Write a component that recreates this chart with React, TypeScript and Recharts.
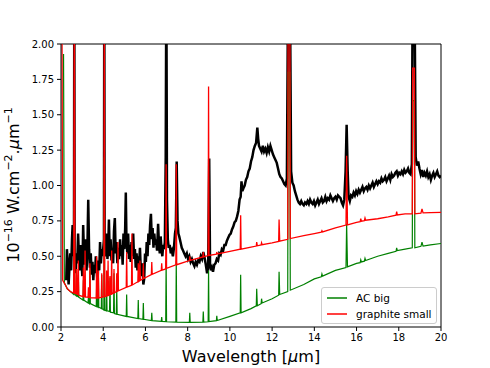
import { LineChart, Line, XAxis, YAxis, ReferenceLine } from 'recharts';

const xTicks = [2, 4, 6, 8, 10, 12, 14, 16, 18, 20];
const yTicks = [0, 0.25, 0.5, 0.75, 1, 1.25, 1.5, 1.75, 2];

// observed spectrum, 10^-16 W cm^-2 um^-1
const observed: [number, number][] = [
  [2.25, 0.33], [2.28, 0.55], [2.32, 0.45], [2.36, 0.3], [2.4, 0.42], [2.44, 0.52], [2.48, 0.4],
  [2.52, 0.62], [2.55, 0.72], [2.58, 0.5], [2.615, 0.6], [2.63, 2.5], [2.645, 0.48], [2.69, 0.38],
  [2.73, 0.52], [2.77, 0.45], [2.81, 0.66], [2.85, 0.5], [2.89, 0.4], [2.93, 0.58], [2.97, 0.47],
  [3.01, 0.36], [3.05, 0.72], [3.09, 0.5], [3.13, 0.44], [3.17, 0.62], [3.21, 0.4], [3.25, 0.55],
  [3.29, 0.9], [3.33, 0.55], [3.37, 0.42], [3.41, 0.52], [3.45, 0.37], [3.49, 0.46], [3.53, 0.33],
  [3.57, 0.44], [3.61, 0.38], [3.65, 0.5], [3.69, 0.4], [3.73, 0.32], [3.77, 0.47], [3.81, 0.4],
  [3.85, 0.6], [3.89, 0.45], [3.93, 0.55], [3.97, 0.5], [4.035, 0.62], [4.05, 2.5], [4.065, 0.58],
  [4.12, 0.5], [4.16, 0.66], [4.2, 0.48], [4.24, 0.58], [4.27, 0.76], [4.31, 0.5], [4.35, 0.62],
  [4.39, 0.47], [4.43, 0.56], [4.47, 0.45], [4.51, 0.68], [4.55, 0.77], [4.59, 0.52], [4.63, 0.6],
  [4.67, 0.45], [4.71, 0.56], [4.75, 0.48], [4.8, 0.62], [4.84, 0.5], [4.88, 0.58], [4.92, 0.44],
  [4.96, 0.66], [5.0, 0.55], [5.04, 0.7], [5.07, 0.95], [5.1, 0.62], [5.14, 0.52], [5.18, 0.66],
  [5.22, 0.48], [5.26, 0.58], [5.3, 0.46], [5.34, 0.6], [5.38, 0.5], [5.42, 0.66], [5.46, 0.48],
  [5.5, 0.55], [5.54, 0.42], [5.58, 0.52], [5.62, 0.4], [5.66, 0.5], [5.7, 0.44], [5.74, 0.56],
  [5.78, 0.4], [5.82, 0.36], [5.86, 0.45], [5.9, 0.3], [5.94, 0.34], [5.98, 0.52], [6.02, 0.46],
  [6.06, 0.6], [6.1, 0.5], [6.14, 0.66], [6.18, 0.58], [6.22, 0.72], [6.26, 0.8], [6.3, 0.62],
  [6.34, 0.7], [6.38, 0.56], [6.42, 0.66], [6.46, 0.58], [6.5, 0.62], [6.55, 0.54], [6.6, 0.73],
  [6.64, 0.58], [6.68, 0.52], [6.72, 0.64], [6.76, 0.55], [6.8, 0.5], [6.84, 0.58], [6.88, 0.55],
  [6.92, 0.6], [6.96, 1.2], [6.99, 2.5], [7.02, 0.9], [7.06, 0.62], [7.1, 0.56], [7.15, 0.58],
  [7.2, 0.52], [7.25, 0.54], [7.3, 0.5], [7.35, 0.56], [7.4, 0.66], [7.44, 0.7], [7.48, 1.17],
  [7.52, 0.75], [7.56, 0.66], [7.6, 0.64], [7.66, 0.6], [7.72, 0.56], [7.78, 0.54], [7.84, 0.52],
  [7.9, 0.5], [7.96, 0.52], [8.02, 0.48], [8.08, 0.5], [8.14, 0.46], [8.2, 0.48], [8.26, 0.45],
  [8.32, 0.43], [8.38, 0.46], [8.44, 0.44], [8.5, 0.47], [8.56, 0.46], [8.62, 0.5], [8.68, 0.48],
  [8.74, 0.53], [8.8, 0.49], [8.86, 0.44], [8.92, 0.38], [8.97, 0.42], [9.02, 1.19], [9.06, 0.45],
  [9.1, 0.4], [9.15, 0.42], [9.2, 0.39], [9.26, 0.44], [9.32, 0.45], [9.38, 0.48], [9.44, 0.47],
  [9.5, 0.52], [9.56, 0.51], [9.62, 0.55], [9.68, 0.54], [9.74, 0.58], [9.8, 0.58], [9.86, 0.61],
  [9.92, 0.63], [9.98, 0.65], [10.04, 0.66], [10.1, 0.69], [10.16, 0.71], [10.22, 0.74], [10.28, 0.75],
  [10.34, 0.78], [10.4, 0.82], [10.46, 0.9], [10.51, 0.92], [10.55, 1.03], [10.59, 0.96], [10.64, 0.98],
  [10.7, 1.0], [10.76, 1.04], [10.82, 1.06], [10.88, 1.1], [10.94, 1.12], [11.0, 1.17], [11.06, 1.2],
  [11.12, 1.25], [11.18, 1.28], [11.24, 1.3], [11.3, 1.41], [11.34, 1.33], [11.38, 1.28], [11.44, 1.26],
  [11.5, 1.24], [11.56, 1.28], [11.62, 1.24], [11.68, 1.26], [11.74, 1.23], [11.8, 1.27], [11.86, 1.24],
  [11.92, 1.28], [11.98, 1.25], [12.04, 1.22], [12.1, 1.2], [12.16, 1.18], [12.22, 1.16], [12.28, 1.12],
  [12.34, 1.08], [12.4, 1.06], [12.46, 1.05], [12.52, 1.03], [12.58, 1.01], [12.64, 1.0], [12.7, 1.05],
  [12.76, 2.5], [12.84, 2.5], [12.9, 1.1], [12.96, 1.02], [13.02, 1.0], [13.08, 0.96], [13.14, 0.93],
  [13.2, 0.9], [13.26, 0.88], [13.32, 0.87], [13.38, 0.89], [13.44, 0.87], [13.5, 0.86], [13.56, 0.88],
  [13.62, 0.87], [13.68, 0.89], [13.74, 0.87], [13.8, 0.9], [13.86, 0.88], [13.92, 0.87], [13.98, 0.89],
  [14.04, 0.86], [14.1, 0.88], [14.16, 0.9], [14.22, 0.87], [14.28, 0.89], [14.34, 0.91], [14.4, 0.88],
  [14.46, 0.89], [14.52, 0.92], [14.58, 0.89], [14.64, 0.91], [14.7, 0.9], [14.76, 0.93], [14.82, 0.91],
  [14.88, 0.89], [14.94, 0.91], [15.0, 0.92], [15.06, 0.9], [15.12, 0.93], [15.18, 0.92], [15.24, 0.91],
  [15.3, 0.88], [15.36, 0.86], [15.42, 0.9], [15.48, 1.1], [15.53, 1.43], [15.58, 1.1], [15.62, 0.92],
  [15.68, 0.89], [15.74, 0.93], [15.8, 0.92], [15.86, 0.95], [15.92, 0.93], [15.98, 0.96], [16.04, 0.94],
  [16.1, 0.97], [16.16, 0.95], [16.22, 0.97], [16.28, 0.99], [16.34, 0.96], [16.4, 0.98], [16.46, 0.99],
  [16.52, 0.97], [16.58, 1.0], [16.64, 0.98], [16.7, 1.0], [16.76, 1.02], [16.82, 0.99], [16.88, 1.01],
  [16.94, 1.03], [17.0, 1.01], [17.06, 1.03], [17.12, 1.02], [17.18, 1.05], [17.24, 1.03], [17.3, 1.04],
  [17.36, 1.06], [17.42, 1.03], [17.48, 1.05], [17.54, 1.07], [17.6, 1.04], [17.66, 1.08], [17.72, 1.06],
  [17.78, 1.07], [17.84, 1.09], [17.9, 1.1], [17.96, 1.07], [18.02, 1.09], [18.08, 1.08], [18.14, 1.1],
  [18.2, 1.08], [18.26, 1.11], [18.32, 1.09], [18.38, 1.1], [18.44, 1.12], [18.5, 1.09], [18.56, 1.08],
  [18.62, 1.15], [18.66, 2.5], [18.74, 2.5], [18.8, 1.2], [18.86, 1.14], [18.92, 1.17], [18.98, 1.12],
  [19.04, 1.08], [19.1, 1.11], [19.16, 1.06], [19.22, 1.09], [19.28, 1.07], [19.34, 1.1], [19.4, 1.06],
  [19.46, 1.08], [19.52, 1.04], [19.58, 1.07], [19.64, 1.09], [19.7, 1.06], [19.76, 1.08], [19.82, 1.1],
  [19.88, 1.07], [19.94, 1.06], [20.0, 1.07],
];

// model: AC big grains
const acBig: [number, number][] = [
  [2.12, 1.93], [2.16, 0.31], [2.3, 0.27], [2.45, 0.25], [2.6, 0.23], [2.63, 0.85], [2.66, 0.23],
  [2.72, 0.22], [2.74, 0.25], [2.76, 0.22], [2.8, 0.215], [2.82, 0.37], [2.84, 0.21], [3.04, 0.19],
  [3.06, 0.33], [3.08, 0.19], [3.28, 0.17], [3.3, 0.21], [3.32, 0.17], [3.35, 0.165], [3.37, 0.4],
  [3.39, 0.165], [3.67, 0.145], [3.69, 0.31], [3.71, 0.145], [3.75, 0.14], [3.77, 0.39], [3.79, 0.14],
  [3.91, 0.13], [3.93, 0.37], [3.95, 0.13], [4.03, 0.12], [4.05, 1.2], [4.07, 0.12], [4.14, 0.115],
  [4.16, 0.32], [4.18, 0.115], [4.3, 0.11], [4.32, 0.35], [4.34, 0.105], [4.49, 0.1], [4.51, 0.38],
  [4.53, 0.095], [4.62, 0.09], [4.64, 0.27], [4.66, 0.09], [5.09, 0.075], [5.11, 0.23], [5.13, 0.075],
  [5.64, 0.06], [5.66, 0.19], [5.68, 0.06], [5.88, 0.055], [5.9, 0.17], [5.92, 0.055], [6.28, 0.045],
  [6.3, 0.1], [6.32, 0.045], [6.75, 0.04], [6.77, 0.07], [6.79, 0.04], [6.96, 0.038], [6.98, 0.47],
  [7.0, 0.037], [7.44, 0.034], [7.46, 0.47], [7.48, 0.034], [8.08, 0.032], [8.1, 0.1], [8.12, 0.032],
  [8.72, 0.035], [8.74, 0.11], [8.76, 0.035], [8.97, 0.037], [8.99, 0.4], [9.01, 0.038], [9.36, 0.045],
  [9.38, 0.08], [9.4, 0.046], [10.0, 0.075], [10.49, 0.1], [10.51, 0.37], [10.53, 0.1], [11.0, 0.13],
  [11.25, 0.15], [11.27, 0.27], [11.3, 0.15], [11.48, 0.165], [11.5, 0.2], [11.53, 0.17], [12.0, 0.2],
  [12.31, 0.225], [12.33, 0.39], [12.36, 0.23], [12.74, 0.25], [12.76, 1.8], [12.84, 1.8], [12.86, 0.26],
  [13.5, 0.3], [14.0, 0.34], [14.33, 0.355], [14.36, 0.375], [14.39, 0.36], [15.0, 0.4], [15.5, 0.42],
  [15.53, 0.73], [15.57, 0.425], [16.0, 0.45], [16.17, 0.455], [16.2, 0.475], [16.23, 0.46],
  [16.37, 0.465], [16.4, 0.485], [16.43, 0.47], [17.0, 0.5], [17.5, 0.52], [17.87, 0.535], [17.9, 0.56],
  [17.93, 0.54], [18.3, 0.55], [18.64, 0.56], [18.66, 1.6], [18.74, 1.6], [18.76, 0.56], [19.05, 0.57],
  [19.1, 0.6], [19.15, 0.572], [19.5, 0.58], [20.0, 0.59],
];

// model: small graphite grains
const graphiteSmall: [number, number][] = [
  [2.04, 2.5], [2.08, 0.33], [2.2, 0.3], [2.3, 0.27], [2.45, 0.25], [2.6, 0.24], [2.63, 2.5],
  [2.66, 0.24], [2.72, 0.235], [2.74, 0.41], [2.76, 0.23], [2.8, 0.23], [2.82, 0.47], [2.84, 0.225],
  [3.04, 0.215], [3.06, 0.42], [3.08, 0.215], [3.12, 0.213], [3.14, 0.54], [3.16, 0.212], [3.28, 0.21],
  [3.3, 0.28], [3.32, 0.21], [3.35, 0.208], [3.37, 0.45], [3.39, 0.207], [3.67, 0.205], [3.69, 0.5],
  [3.71, 0.205], [3.75, 0.205], [3.77, 0.4], [3.79, 0.206], [3.91, 0.21], [3.93, 0.38], [3.95, 0.21],
  [4.03, 0.213], [4.05, 2.5], [4.07, 0.215], [4.14, 0.218], [4.16, 0.4], [4.18, 0.22], [4.21, 0.222],
  [4.23, 0.47], [4.25, 0.224], [4.3, 0.228], [4.32, 0.36], [4.34, 0.23], [4.38, 0.232], [4.4, 0.54],
  [4.42, 0.234], [4.49, 0.24], [4.51, 0.41], [4.53, 0.242], [4.62, 0.25], [4.64, 0.38], [4.66, 0.252],
  [4.68, 0.254], [4.7, 0.6], [4.72, 0.256], [5.09, 0.28], [5.11, 0.53], [5.13, 0.282], [5.34, 0.295],
  [5.36, 0.66], [5.38, 0.297], [5.64, 0.32], [5.66, 0.45], [5.68, 0.322], [5.72, 0.326], [5.74, 0.47],
  [5.76, 0.33], [5.88, 0.34], [5.9, 0.45], [5.92, 0.343], [6.28, 0.37], [6.3, 0.46], [6.32, 0.372],
  [6.75, 0.4], [6.77, 0.45], [6.79, 0.402], [6.96, 0.41], [6.98, 1.15], [7.0, 0.415], [7.44, 0.44],
  [7.46, 1.15], [7.48, 0.44], [8.08, 0.47], [8.1, 0.5], [8.12, 0.47], [8.72, 0.495], [8.74, 0.53],
  [8.76, 0.496], [8.97, 0.505], [8.99, 1.7], [9.01, 0.506], [9.36, 0.515], [9.38, 0.53], [9.4, 0.516],
  [10.0, 0.535], [10.49, 0.55], [10.51, 0.79], [10.53, 0.55], [11.0, 0.565], [11.25, 0.572],
  [11.27, 0.6], [11.3, 0.574], [11.48, 0.58], [11.5, 0.595], [11.53, 0.582], [12.0, 0.595],
  [12.31, 0.605], [12.33, 0.76], [12.36, 0.607], [12.74, 0.62], [12.76, 2.5], [12.84, 2.5],
  [12.86, 0.625], [13.5, 0.645], [14.0, 0.66], [14.33, 0.67], [14.36, 0.68], [14.39, 0.672], [15.0, 0.7],
  [15.5, 0.72], [15.53, 1.21], [15.57, 0.722], [16.0, 0.74], [16.17, 0.745], [16.2, 0.765],
  [16.23, 0.748], [16.37, 0.752], [16.4, 0.77], [16.43, 0.755], [17.0, 0.765], [17.5, 0.778],
  [17.87, 0.79], [17.9, 0.815], [17.93, 0.792], [18.3, 0.8], [18.64, 0.8], [18.66, 1.83], [18.74, 1.83],
  [18.76, 0.8], [19.05, 0.805], [19.1, 0.835], [19.15, 0.806], [19.5, 0.808], [20.0, 0.81],
];

const toRows = (pts: [number, number][]) => pts.map(([x, y]) => ({ x, y }));

const font = 'DejaVu Sans, sans-serif';
const tickStyle = { fill: '#000', fontSize: 10, fontFamily: font };

export default function App() {
  return (
    <div style={{ position: 'absolute', left: 0, top: 0, width: 490, height: 368, background: '#fff' }}>
      <LineChart width={490} height={368} margin={{ top: 44, right: 49, bottom: 0, left: 0 }}>
        <XAxis
          dataKey="x"
          type="number"
          domain={[2, 20]}
          ticks={xTicks}
          allowDataOverflow
          height={41}
          tickSize={4}
          tickMargin={3}
          stroke="#000"
          tick={tickStyle}
        />
        <YAxis
          type="number"
          domain={[0, 2]}
          ticks={yTicks}
          allowDataOverflow
          width={61}
          tickSize={4}
          tickMargin={3}
          stroke="#000"
          tick={tickStyle}
          tickFormatter={(v: number) => v.toFixed(2)}
        />
        <ReferenceLine y={2} stroke="#000" />
        <ReferenceLine x={20} stroke="#000" />
        <Line data={toRows(observed)} dataKey="y" type="linear" stroke="#000" strokeWidth={2.5} dot={false} isAnimationActive={false} />
        <Line data={toRows(acBig)} dataKey="y" type="linear" stroke="#008000" strokeWidth={1.2} dot={false} isAnimationActive={false} />
        <Line data={toRows(graphiteSmall)} dataKey="y" type="linear" stroke="#ff0000" strokeWidth={1.3} dot={false} isAnimationActive={false} />
      </LineChart>

      <svg width={490} height={368} style={{ position: 'absolute', left: 0, top: 0, pointerEvents: 'none' }}>
        <text x={251} y={362} textAnchor="middle" fontSize={16} fontFamily={font} fill="#000">
          Wavelength [<tspan fontStyle="italic">μ</tspan>m]
        </text>
        <text x={19} y={185} transform="rotate(-90 19 185)" textAnchor="middle" fontSize={16} fontFamily={font} fill="#000">
          <tspan>10</tspan>
          <tspan dy={-7} fontSize={11}>−16</tspan>
          <tspan dy={7}>{' W.cm'}</tspan>
          <tspan dy={-7} fontSize={11}>−2</tspan>
          <tspan dy={7}>.</tspan>
          <tspan fontStyle="italic">μ</tspan>
          <tspan>m</tspan>
          <tspan dy={-7} fontSize={11}>−1</tspan>
        </text>
      </svg>

      <div
        style={{
          position: 'absolute', left: 321, top: 287, width: 114, height: 35,
          border: '1px solid #ccc', borderRadius: 3, background: 'rgba(255,255,255,0.8)',
          fontFamily: font, fontSize: 10.5, color: '#000',
        }}
      >
        {[{ name: 'AC big', color: '#008000' }, { name: 'graphite small', color: '#ff0000' }].map((it, i) => (
          <div key={it.name} style={{ position: 'absolute', left: 4, top: 3 + i * 16, height: 14, display: 'flex', alignItems: 'center' }}>
            <svg width={22} height={14}><line x1={1} x2={21} y1={7} y2={7} stroke={it.color} strokeWidth={1.5} /></svg>
            <span style={{ marginLeft: 8, whiteSpace: 'nowrap' }}>{it.name}</span>
          </div>
        ))}
      </div>
    </div>
  );
}
